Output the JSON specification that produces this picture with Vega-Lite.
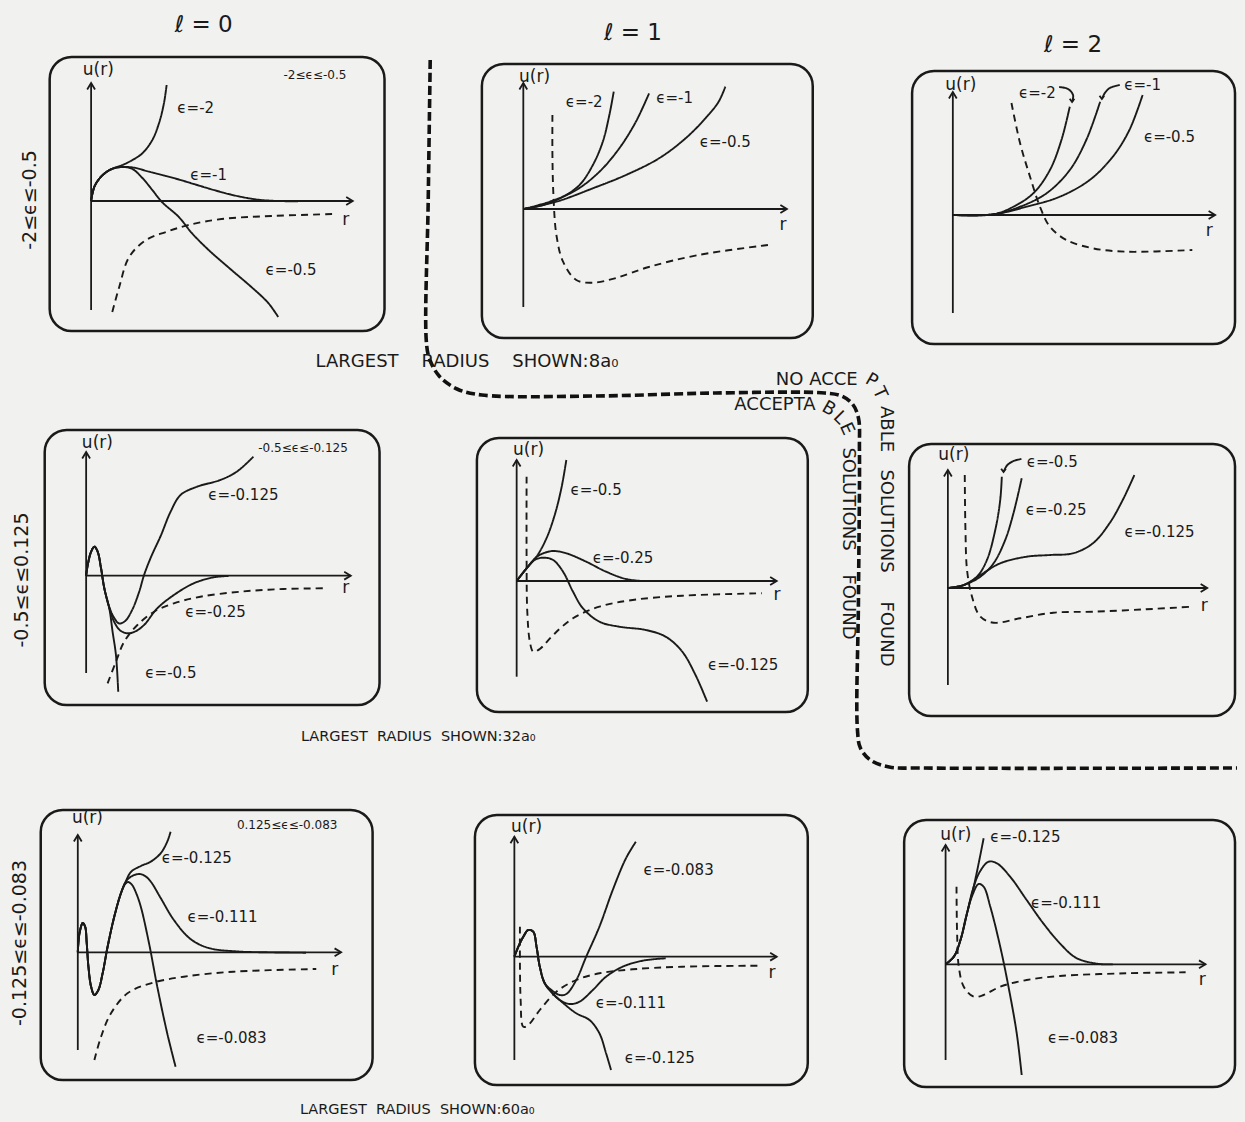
{
  "$schema": "https://vega.github.io/schema/vega-lite/v6.json",
  "width": 1245,
  "height": 1122,
  "autosize": {"type": "fit", "contains": "padding"},
  "padding": 0,
  "background": "#f1f1ef",
  "config": {"view": {"stroke": null}},
  "datasets": {
    "boxes": [
      {"panel": "l0_r1", "x0": 50, "x1": 387, "y0": 57, "y1": 331},
      {"panel": "l1_r1", "x0": 485, "x1": 818, "y0": 64, "y1": 338},
      {"panel": "l2_r1", "x0": 918, "x1": 1243, "y0": 71, "y1": 344},
      {"panel": "l0_r2", "x0": 45, "x1": 382, "y0": 430, "y1": 705},
      {"panel": "l1_r2", "x0": 480, "x1": 813, "y0": 438, "y1": 712},
      {"panel": "l2_r2", "x0": 915, "x1": 1243, "y0": 444, "y1": 716},
      {"panel": "l0_r3", "x0": 41, "x1": 375, "y0": 810, "y1": 1080},
      {"panel": "l1_r3", "x0": 478, "x1": 813, "y0": 815, "y1": 1085},
      {"panel": "l2_r3", "x0": 910, "x1": 1243, "y0": 820, "y1": 1087}
    ],
    "axes": [
      {"panel": "l0_r1", "x": 91.7, "y": 310, "x2": 91.7, "y2": 83},
      {"panel": "l0_r1", "x": 91.7, "y": 201, "x2": 355, "y2": 201},
      {"panel": "l1_r1", "x": 526.7, "y": 307, "x2": 526.7, "y2": 83},
      {"panel": "l1_r1", "x": 526.7, "y": 209, "x2": 792, "y2": 209},
      {"panel": "l2_r1", "x": 959, "y": 313, "x2": 959, "y2": 92},
      {"panel": "l2_r1", "x": 959, "y": 215, "x2": 1223, "y2": 215},
      {"panel": "l0_r2", "x": 86.7, "y": 673, "x2": 86.7, "y2": 452},
      {"panel": "l0_r2", "x": 86.7, "y": 575.7, "x2": 353, "y2": 575.7},
      {"panel": "l1_r2", "x": 520, "y": 676.7, "x2": 520, "y2": 460},
      {"panel": "l1_r2", "x": 520, "y": 581, "x2": 781.7, "y2": 581},
      {"panel": "l2_r2", "x": 954, "y": 685, "x2": 954, "y2": 470},
      {"panel": "l2_r2", "x": 954, "y": 588, "x2": 1215, "y2": 588},
      {"panel": "l0_r3", "x": 78.3, "y": 1050, "x2": 78.3, "y2": 835},
      {"panel": "l0_r3", "x": 78.3, "y": 952.3, "x2": 343.3, "y2": 952.3},
      {"panel": "l1_r3", "x": 517.7, "y": 1060, "x2": 517.7, "y2": 836.7},
      {"panel": "l1_r3", "x": 517.7, "y": 956.7, "x2": 781.7, "y2": 956.7},
      {"panel": "l2_r3", "x": 951.7, "y": 1060, "x2": 951.7, "y2": 845},
      {"panel": "l2_r3", "x": 951.7, "y": 964.3, "x2": 1213.3, "y2": 964.3}
    ],
    "arrows": [
      {"x": 91.7, "y": 83, "dir": "up", "kind": "axis"},
      {"x": 355, "y": 201, "dir": "right", "kind": "axis"},
      {"x": 526.7, "y": 83, "dir": "up", "kind": "axis"},
      {"x": 792, "y": 209, "dir": "right", "kind": "axis"},
      {"x": 959, "y": 92, "dir": "up", "kind": "axis"},
      {"x": 1223, "y": 215, "dir": "right", "kind": "axis"},
      {"x": 86.7, "y": 452, "dir": "up", "kind": "axis"},
      {"x": 353, "y": 575.7, "dir": "right", "kind": "axis"},
      {"x": 520, "y": 460, "dir": "up", "kind": "axis"},
      {"x": 781.7, "y": 581, "dir": "right", "kind": "axis"},
      {"x": 954, "y": 470, "dir": "up", "kind": "axis"},
      {"x": 1215, "y": 588, "dir": "right", "kind": "axis"},
      {"x": 78.3, "y": 835, "dir": "up", "kind": "axis"},
      {"x": 343.3, "y": 952.3, "dir": "right", "kind": "axis"},
      {"x": 517.7, "y": 836.7, "dir": "up", "kind": "axis"},
      {"x": 781.7, "y": 956.7, "dir": "right", "kind": "axis"},
      {"x": 951.7, "y": 845, "dir": "up", "kind": "axis"},
      {"x": 1213.3, "y": 964.3, "dir": "right", "kind": "axis"},
      {"x": 1079, "y": 102, "dir": "down", "kind": "pointer"},
      {"x": 1109, "y": 99, "dir": "down", "kind": "pointer"},
      {"x": 1010, "y": 472, "dir": "down", "kind": "pointer"}
    ],
    "boundary": [
      {"i": 0, "x": 433, "y": 60}, {"i": 1, "x": 431, "y": 200}, {"i": 2, "x": 429, "y": 340},
      {"i": 3, "x": 432, "y": 358}, {"i": 4, "x": 442, "y": 376}, {"i": 5, "x": 460, "y": 389},
      {"i": 6, "x": 485, "y": 395}, {"i": 7, "x": 600, "y": 396}, {"i": 8, "x": 720, "y": 393},
      {"i": 9, "x": 830, "y": 393}, {"i": 10, "x": 847, "y": 396}, {"i": 11, "x": 858, "y": 404},
      {"i": 12, "x": 864, "y": 418}, {"i": 13, "x": 865, "y": 450}, {"i": 14, "x": 864, "y": 600},
      {"i": 15, "x": 863, "y": 730}, {"i": 16, "x": 866, "y": 748}, {"i": 17, "x": 876, "y": 760},
      {"i": 18, "x": 895, "y": 767}, {"i": 19, "x": 930, "y": 768}, {"i": 20, "x": 1245, "y": 768}
    ],
    "curves": [
      {"id": "c00a", "kind": "solution", "i": 0, "x": 91.7, "y": 201},
      {"id": "c00a", "kind": "solution", "i": 1, "x": 95, "y": 186.7},
      {"id": "c00a", "kind": "solution", "i": 2, "x": 101.7, "y": 176.7},
      {"id": "c00a", "kind": "solution", "i": 3, "x": 111.7, "y": 169.3},
      {"id": "c00a", "kind": "solution", "i": 4, "x": 123.3, "y": 165},
      {"id": "c00a", "kind": "solution", "i": 5, "x": 133.3, "y": 160},
      {"id": "c00a", "kind": "solution", "i": 6, "x": 143.3, "y": 153.3},
      {"id": "c00a", "kind": "solution", "i": 7, "x": 153.3, "y": 140},
      {"id": "c00a", "kind": "solution", "i": 8, "x": 160, "y": 123.3},
      {"id": "c00a", "kind": "solution", "i": 9, "x": 165, "y": 103.3},
      {"id": "c00a", "kind": "solution", "i": 10, "x": 167.7, "y": 85},

      {"id": "c00b", "kind": "solution", "i": 0, "x": 91.7, "y": 201},
      {"id": "c00b", "kind": "solution", "i": 1, "x": 95, "y": 186.7},
      {"id": "c00b", "kind": "solution", "i": 2, "x": 101.7, "y": 176.7},
      {"id": "c00b", "kind": "solution", "i": 3, "x": 111.7, "y": 169.3},
      {"id": "c00b", "kind": "solution", "i": 4, "x": 123.3, "y": 167},
      {"id": "c00b", "kind": "solution", "i": 5, "x": 135, "y": 167.7},
      {"id": "c00b", "kind": "solution", "i": 6, "x": 150, "y": 171.7},
      {"id": "c00b", "kind": "solution", "i": 7, "x": 165, "y": 175.5},
      {"id": "c00b", "kind": "solution", "i": 8, "x": 180, "y": 179.5},
      {"id": "c00b", "kind": "solution", "i": 9, "x": 195, "y": 184},
      {"id": "c00b", "kind": "solution", "i": 10, "x": 210, "y": 188.5},
      {"id": "c00b", "kind": "solution", "i": 11, "x": 225, "y": 192.7},
      {"id": "c00b", "kind": "solution", "i": 12, "x": 240, "y": 196.3},
      {"id": "c00b", "kind": "solution", "i": 13, "x": 260, "y": 199.7},
      {"id": "c00b", "kind": "solution", "i": 14, "x": 280, "y": 201},
      {"id": "c00b", "kind": "solution", "i": 15, "x": 300, "y": 201.3},

      {"id": "c00c", "kind": "solution", "i": 0, "x": 91.7, "y": 201},
      {"id": "c00c", "kind": "solution", "i": 1, "x": 95, "y": 186.7},
      {"id": "c00c", "kind": "solution", "i": 2, "x": 101.7, "y": 176.7},
      {"id": "c00c", "kind": "solution", "i": 3, "x": 111.7, "y": 169.3},
      {"id": "c00c", "kind": "solution", "i": 4, "x": 123.3, "y": 167},
      {"id": "c00c", "kind": "solution", "i": 5, "x": 133.3, "y": 169},
      {"id": "c00c", "kind": "solution", "i": 6, "x": 143.3, "y": 178},
      {"id": "c00c", "kind": "solution", "i": 7, "x": 153.3, "y": 190},
      {"id": "c00c", "kind": "solution", "i": 8, "x": 163, "y": 202},
      {"id": "c00c", "kind": "solution", "i": 9, "x": 180, "y": 217},
      {"id": "c00c", "kind": "solution", "i": 10, "x": 193, "y": 233},
      {"id": "c00c", "kind": "solution", "i": 11, "x": 210, "y": 250},
      {"id": "c00c", "kind": "solution", "i": 12, "x": 233, "y": 270},
      {"id": "c00c", "kind": "solution", "i": 13, "x": 253, "y": 287},
      {"id": "c00c", "kind": "solution", "i": 14, "x": 270, "y": 303},
      {"id": "c00c", "kind": "solution", "i": 15, "x": 280, "y": 317},

      {"id": "c00d", "kind": "potential", "i": 0, "x": 113, "y": 312},
      {"id": "c00d", "kind": "potential", "i": 1, "x": 120, "y": 287},
      {"id": "c00d", "kind": "potential", "i": 2, "x": 130, "y": 257},
      {"id": "c00d", "kind": "potential", "i": 3, "x": 147, "y": 240},
      {"id": "c00d", "kind": "potential", "i": 4, "x": 167, "y": 232},
      {"id": "c00d", "kind": "potential", "i": 5, "x": 190, "y": 225},
      {"id": "c00d", "kind": "potential", "i": 6, "x": 223, "y": 219},
      {"id": "c00d", "kind": "potential", "i": 7, "x": 273, "y": 216},
      {"id": "c00d", "kind": "potential", "i": 8, "x": 337, "y": 214},

      {"id": "c01a", "kind": "solution", "i": 0, "x": 526.7, "y": 209},
      {"id": "c01a", "kind": "solution", "i": 1, "x": 546.7, "y": 205},
      {"id": "c01a", "kind": "solution", "i": 2, "x": 566.7, "y": 196.7},
      {"id": "c01a", "kind": "solution", "i": 3, "x": 583.3, "y": 185},
      {"id": "c01a", "kind": "solution", "i": 4, "x": 596.7, "y": 165},
      {"id": "c01a", "kind": "solution", "i": 5, "x": 606.7, "y": 141.7},
      {"id": "c01a", "kind": "solution", "i": 6, "x": 613.3, "y": 115},
      {"id": "c01a", "kind": "solution", "i": 7, "x": 617.7, "y": 91.7},

      {"id": "c01b", "kind": "solution", "i": 0, "x": 526.7, "y": 209},
      {"id": "c01b", "kind": "solution", "i": 1, "x": 553.3, "y": 201.7},
      {"id": "c01b", "kind": "solution", "i": 2, "x": 580, "y": 190},
      {"id": "c01b", "kind": "solution", "i": 3, "x": 603.3, "y": 171.7},
      {"id": "c01b", "kind": "solution", "i": 4, "x": 623.3, "y": 148.3},
      {"id": "c01b", "kind": "solution", "i": 5, "x": 640, "y": 121.7},
      {"id": "c01b", "kind": "solution", "i": 6, "x": 653.3, "y": 93.3},

      {"id": "c01c", "kind": "solution", "i": 0, "x": 526.7, "y": 209},
      {"id": "c01c", "kind": "solution", "i": 1, "x": 560, "y": 201.7},
      {"id": "c01c", "kind": "solution", "i": 2, "x": 596.7, "y": 188.3},
      {"id": "c01c", "kind": "solution", "i": 3, "x": 630, "y": 175},
      {"id": "c01c", "kind": "solution", "i": 4, "x": 663.3, "y": 158.3},
      {"id": "c01c", "kind": "solution", "i": 5, "x": 690, "y": 138.3},
      {"id": "c01c", "kind": "solution", "i": 6, "x": 710, "y": 118.3},
      {"id": "c01c", "kind": "solution", "i": 7, "x": 723.3, "y": 101.7},
      {"id": "c01c", "kind": "solution", "i": 8, "x": 730, "y": 86.7},

      {"id": "c01d", "kind": "potential", "i": 0, "x": 556, "y": 115},
      {"id": "c01d", "kind": "potential", "i": 1, "x": 556, "y": 155},
      {"id": "c01d", "kind": "potential", "i": 2, "x": 557, "y": 195},
      {"id": "c01d", "kind": "potential", "i": 3, "x": 560, "y": 235},
      {"id": "c01d", "kind": "potential", "i": 4, "x": 566.7, "y": 261.7},
      {"id": "c01d", "kind": "potential", "i": 5, "x": 580, "y": 280},
      {"id": "c01d", "kind": "potential", "i": 6, "x": 596.7, "y": 282.7},
      {"id": "c01d", "kind": "potential", "i": 7, "x": 620, "y": 278},
      {"id": "c01d", "kind": "potential", "i": 8, "x": 653, "y": 267},
      {"id": "c01d", "kind": "potential", "i": 9, "x": 703, "y": 255},
      {"id": "c01d", "kind": "potential", "i": 10, "x": 773, "y": 245},

      {"id": "c02a", "kind": "solution", "i": 0, "x": 959, "y": 215},
      {"id": "c02a", "kind": "solution", "i": 1, "x": 1000, "y": 214.3},
      {"id": "c02a", "kind": "solution", "i": 2, "x": 1020, "y": 206.7},
      {"id": "c02a", "kind": "solution", "i": 3, "x": 1040, "y": 193.3},
      {"id": "c02a", "kind": "solution", "i": 4, "x": 1056.7, "y": 170},
      {"id": "c02a", "kind": "solution", "i": 5, "x": 1068.3, "y": 140},
      {"id": "c02a", "kind": "solution", "i": 6, "x": 1076.7, "y": 106.7},

      {"id": "c02b", "kind": "solution", "i": 0, "x": 959, "y": 215},
      {"id": "c02b", "kind": "solution", "i": 1, "x": 1000, "y": 214.3},
      {"id": "c02b", "kind": "solution", "i": 2, "x": 1026.7, "y": 206.7},
      {"id": "c02b", "kind": "solution", "i": 3, "x": 1053.3, "y": 193.3},
      {"id": "c02b", "kind": "solution", "i": 4, "x": 1076.7, "y": 170},
      {"id": "c02b", "kind": "solution", "i": 5, "x": 1093.3, "y": 140},
      {"id": "c02b", "kind": "solution", "i": 6, "x": 1107.3, "y": 101.7},

      {"id": "c02c", "kind": "solution", "i": 0, "x": 959, "y": 215},
      {"id": "c02c", "kind": "solution", "i": 1, "x": 1000, "y": 214.3},
      {"id": "c02c", "kind": "solution", "i": 2, "x": 1033.3, "y": 206.7},
      {"id": "c02c", "kind": "solution", "i": 3, "x": 1066.7, "y": 196.7},
      {"id": "c02c", "kind": "solution", "i": 4, "x": 1096.7, "y": 180},
      {"id": "c02c", "kind": "solution", "i": 5, "x": 1120, "y": 156.7},
      {"id": "c02c", "kind": "solution", "i": 6, "x": 1136.7, "y": 130},
      {"id": "c02c", "kind": "solution", "i": 7, "x": 1150, "y": 95},

      {"id": "c02d", "kind": "potential", "i": 0, "x": 1018, "y": 103},
      {"id": "c02d", "kind": "potential", "i": 1, "x": 1026.7, "y": 143.3},
      {"id": "c02d", "kind": "potential", "i": 2, "x": 1036.7, "y": 176.7},
      {"id": "c02d", "kind": "potential", "i": 3, "x": 1046.7, "y": 206.7},
      {"id": "c02d", "kind": "potential", "i": 4, "x": 1056.7, "y": 226.7},
      {"id": "c02d", "kind": "potential", "i": 5, "x": 1073.3, "y": 240},
      {"id": "c02d", "kind": "potential", "i": 6, "x": 1100, "y": 248.3},
      {"id": "c02d", "kind": "potential", "i": 7, "x": 1133.3, "y": 251.7},
      {"id": "c02d", "kind": "potential", "i": 8, "x": 1200, "y": 250},

      {"id": "q02a", "kind": "pointer", "i": 0, "x": 1066, "y": 87},
      {"id": "q02a", "kind": "pointer", "i": 1, "x": 1075, "y": 89},
      {"id": "q02a", "kind": "pointer", "i": 2, "x": 1080, "y": 95},
      {"id": "q02a", "kind": "pointer", "i": 3, "x": 1079, "y": 102},
      {"id": "q02b", "kind": "pointer", "i": 0, "x": 1127, "y": 85},
      {"id": "q02b", "kind": "pointer", "i": 1, "x": 1117, "y": 88},
      {"id": "q02b", "kind": "pointer", "i": 2, "x": 1112, "y": 93},
      {"id": "q02b", "kind": "pointer", "i": 3, "x": 1109, "y": 99},

      {"id": "c10a", "kind": "solution", "i": 0, "x": 86.7, "y": 575.7},
      {"id": "c10a", "kind": "solution", "i": 1, "x": 88.3, "y": 565},
      {"id": "c10a", "kind": "solution", "i": 2, "x": 91.7, "y": 551.7},
      {"id": "c10a", "kind": "solution", "i": 3, "x": 95, "y": 546.7},
      {"id": "c10a", "kind": "solution", "i": 4, "x": 98.3, "y": 551.7},
      {"id": "c10a", "kind": "solution", "i": 5, "x": 101.7, "y": 568.3},
      {"id": "c10a", "kind": "solution", "i": 6, "x": 105, "y": 588.3},
      {"id": "c10a", "kind": "solution", "i": 7, "x": 110, "y": 608.3},
      {"id": "c10a", "kind": "solution", "i": 8, "x": 113.3, "y": 631.7},
      {"id": "c10a", "kind": "solution", "i": 9, "x": 116.7, "y": 655},
      {"id": "c10a", "kind": "solution", "i": 10, "x": 119, "y": 691.7},

      {"id": "c10b", "kind": "solution", "i": 0, "x": 86.7, "y": 575.7},
      {"id": "c10b", "kind": "solution", "i": 1, "x": 88.3, "y": 565},
      {"id": "c10b", "kind": "solution", "i": 2, "x": 91.7, "y": 551.7},
      {"id": "c10b", "kind": "solution", "i": 3, "x": 95, "y": 546.7},
      {"id": "c10b", "kind": "solution", "i": 4, "x": 98.3, "y": 551.7},
      {"id": "c10b", "kind": "solution", "i": 5, "x": 101.7, "y": 568.3},
      {"id": "c10b", "kind": "solution", "i": 6, "x": 105, "y": 588.3},
      {"id": "c10b", "kind": "solution", "i": 7, "x": 110, "y": 607},
      {"id": "c10b", "kind": "solution", "i": 8, "x": 115, "y": 618},
      {"id": "c10b", "kind": "solution", "i": 9, "x": 120, "y": 623.5},
      {"id": "c10b", "kind": "solution", "i": 10, "x": 126, "y": 621},
      {"id": "c10b", "kind": "solution", "i": 11, "x": 133, "y": 610},
      {"id": "c10b", "kind": "solution", "i": 12, "x": 140, "y": 592},
      {"id": "c10b", "kind": "solution", "i": 13, "x": 145, "y": 575},
      {"id": "c10b", "kind": "solution", "i": 14, "x": 152, "y": 557},
      {"id": "c10b", "kind": "solution", "i": 15, "x": 161.7, "y": 536},
      {"id": "c10b", "kind": "solution", "i": 16, "x": 171.7, "y": 511.7},
      {"id": "c10b", "kind": "solution", "i": 17, "x": 181.7, "y": 495},
      {"id": "c10b", "kind": "solution", "i": 18, "x": 198.3, "y": 486.7},
      {"id": "c10b", "kind": "solution", "i": 19, "x": 221.7, "y": 480},
      {"id": "c10b", "kind": "solution", "i": 20, "x": 238.3, "y": 471.7},
      {"id": "c10b", "kind": "solution", "i": 21, "x": 255, "y": 456.7},

      {"id": "c10c", "kind": "solution", "i": 0, "x": 86.7, "y": 575.7},
      {"id": "c10c", "kind": "solution", "i": 1, "x": 88.3, "y": 565},
      {"id": "c10c", "kind": "solution", "i": 2, "x": 91.7, "y": 551.7},
      {"id": "c10c", "kind": "solution", "i": 3, "x": 95, "y": 546.7},
      {"id": "c10c", "kind": "solution", "i": 4, "x": 98.3, "y": 551.7},
      {"id": "c10c", "kind": "solution", "i": 5, "x": 101.7, "y": 568.3},
      {"id": "c10c", "kind": "solution", "i": 6, "x": 105, "y": 588.3},
      {"id": "c10c", "kind": "solution", "i": 7, "x": 110, "y": 608},
      {"id": "c10c", "kind": "solution", "i": 8, "x": 115, "y": 622},
      {"id": "c10c", "kind": "solution", "i": 9, "x": 121, "y": 630.5},
      {"id": "c10c", "kind": "solution", "i": 10, "x": 128.3, "y": 633.3},
      {"id": "c10c", "kind": "solution", "i": 11, "x": 136, "y": 631.5},
      {"id": "c10c", "kind": "solution", "i": 12, "x": 145, "y": 625},
      {"id": "c10c", "kind": "solution", "i": 13, "x": 158.3, "y": 608.3},
      {"id": "c10c", "kind": "solution", "i": 14, "x": 175, "y": 595},
      {"id": "c10c", "kind": "solution", "i": 15, "x": 195, "y": 583.3},
      {"id": "c10c", "kind": "solution", "i": 16, "x": 215, "y": 577.3},
      {"id": "c10c", "kind": "solution", "i": 17, "x": 230, "y": 576},

      {"id": "c10d", "kind": "potential", "i": 0, "x": 108.3, "y": 683.3},
      {"id": "c10d", "kind": "potential", "i": 1, "x": 116.7, "y": 661.7},
      {"id": "c10d", "kind": "potential", "i": 2, "x": 125, "y": 641.7},
      {"id": "c10d", "kind": "potential", "i": 3, "x": 138.3, "y": 625},
      {"id": "c10d", "kind": "potential", "i": 4, "x": 155, "y": 611.7},
      {"id": "c10d", "kind": "potential", "i": 5, "x": 175, "y": 603.3},
      {"id": "c10d", "kind": "potential", "i": 6, "x": 201.7, "y": 596.7},
      {"id": "c10d", "kind": "potential", "i": 7, "x": 241.7, "y": 591.7},
      {"id": "c10d", "kind": "potential", "i": 8, "x": 285, "y": 589},
      {"id": "c10d", "kind": "potential", "i": 9, "x": 328.3, "y": 588.3},

      {"id": "c11a", "kind": "solution", "i": 0, "x": 520, "y": 581},
      {"id": "c11a", "kind": "solution", "i": 1, "x": 530, "y": 568.3},
      {"id": "c11a", "kind": "solution", "i": 2, "x": 540, "y": 556.7},
      {"id": "c11a", "kind": "solution", "i": 3, "x": 550, "y": 538.3},
      {"id": "c11a", "kind": "solution", "i": 4, "x": 558.3, "y": 515},
      {"id": "c11a", "kind": "solution", "i": 5, "x": 565, "y": 488.3},
      {"id": "c11a", "kind": "solution", "i": 6, "x": 570, "y": 460},

      {"id": "c11b", "kind": "solution", "i": 0, "x": 520, "y": 581},
      {"id": "c11b", "kind": "solution", "i": 1, "x": 530, "y": 568.3},
      {"id": "c11b", "kind": "solution", "i": 2, "x": 540, "y": 557},
      {"id": "c11b", "kind": "solution", "i": 3, "x": 546.7, "y": 553.3},
      {"id": "c11b", "kind": "solution", "i": 4, "x": 556.7, "y": 551},
      {"id": "c11b", "kind": "solution", "i": 5, "x": 570, "y": 553.3},
      {"id": "c11b", "kind": "solution", "i": 6, "x": 590, "y": 561.7},
      {"id": "c11b", "kind": "solution", "i": 7, "x": 610, "y": 571.7},
      {"id": "c11b", "kind": "solution", "i": 8, "x": 630, "y": 579},
      {"id": "c11b", "kind": "solution", "i": 9, "x": 646.7, "y": 581},

      {"id": "c11c", "kind": "solution", "i": 0, "x": 520, "y": 581},
      {"id": "c11c", "kind": "solution", "i": 1, "x": 530, "y": 568.3},
      {"id": "c11c", "kind": "solution", "i": 2, "x": 538, "y": 560},
      {"id": "c11c", "kind": "solution", "i": 3, "x": 546.7, "y": 557.7},
      {"id": "c11c", "kind": "solution", "i": 4, "x": 556.7, "y": 560},
      {"id": "c11c", "kind": "solution", "i": 5, "x": 566.7, "y": 571.7},
      {"id": "c11c", "kind": "solution", "i": 6, "x": 576.7, "y": 591.7},
      {"id": "c11c", "kind": "solution", "i": 7, "x": 586.7, "y": 608.3},
      {"id": "c11c", "kind": "solution", "i": 8, "x": 603.3, "y": 621.7},
      {"id": "c11c", "kind": "solution", "i": 9, "x": 623.3, "y": 626.7},
      {"id": "c11c", "kind": "solution", "i": 10, "x": 650, "y": 630},
      {"id": "c11c", "kind": "solution", "i": 11, "x": 670, "y": 636.7},
      {"id": "c11c", "kind": "solution", "i": 12, "x": 686.7, "y": 651.7},
      {"id": "c11c", "kind": "solution", "i": 13, "x": 700, "y": 675},
      {"id": "c11c", "kind": "solution", "i": 14, "x": 711.7, "y": 701.7},

      {"id": "c11d", "kind": "potential", "i": 0, "x": 530, "y": 476.7},
      {"id": "c11d", "kind": "potential", "i": 1, "x": 530, "y": 558.3},
      {"id": "c11d", "kind": "potential", "i": 2, "x": 530.7, "y": 611.7},
      {"id": "c11d", "kind": "potential", "i": 3, "x": 533.3, "y": 641.7},
      {"id": "c11d", "kind": "potential", "i": 4, "x": 536.7, "y": 651.7},
      {"id": "c11d", "kind": "potential", "i": 5, "x": 543.3, "y": 649},
      {"id": "c11d", "kind": "potential", "i": 6, "x": 556.7, "y": 635},
      {"id": "c11d", "kind": "potential", "i": 7, "x": 576.7, "y": 618.3},
      {"id": "c11d", "kind": "potential", "i": 8, "x": 603.3, "y": 606.7},
      {"id": "c11d", "kind": "potential", "i": 9, "x": 636.7, "y": 600},
      {"id": "c11d", "kind": "potential", "i": 10, "x": 686.7, "y": 595.7},
      {"id": "c11d", "kind": "potential", "i": 11, "x": 766.7, "y": 593.3},

      {"id": "c12a", "kind": "solution", "i": 0, "x": 954, "y": 588},
      {"id": "c12a", "kind": "solution", "i": 1, "x": 970, "y": 585},
      {"id": "c12a", "kind": "solution", "i": 2, "x": 983.3, "y": 576.7},
      {"id": "c12a", "kind": "solution", "i": 3, "x": 993.3, "y": 560},
      {"id": "c12a", "kind": "solution", "i": 4, "x": 1001.7, "y": 530},
      {"id": "c12a", "kind": "solution", "i": 5, "x": 1006.7, "y": 500},
      {"id": "c12a", "kind": "solution", "i": 6, "x": 1008.3, "y": 476.7},

      {"id": "c12b", "kind": "solution", "i": 0, "x": 954, "y": 588},
      {"id": "c12b", "kind": "solution", "i": 1, "x": 970, "y": 585},
      {"id": "c12b", "kind": "solution", "i": 2, "x": 986.7, "y": 576.7},
      {"id": "c12b", "kind": "solution", "i": 3, "x": 1000, "y": 563.3},
      {"id": "c12b", "kind": "solution", "i": 4, "x": 1011.7, "y": 540},
      {"id": "c12b", "kind": "solution", "i": 5, "x": 1020, "y": 513.3},
      {"id": "c12b", "kind": "solution", "i": 6, "x": 1028.3, "y": 478.3},

      {"id": "c12c", "kind": "solution", "i": 0, "x": 954, "y": 588},
      {"id": "c12c", "kind": "solution", "i": 1, "x": 970, "y": 585},
      {"id": "c12c", "kind": "solution", "i": 2, "x": 986.7, "y": 575},
      {"id": "c12c", "kind": "solution", "i": 3, "x": 1006.7, "y": 563.3},
      {"id": "c12c", "kind": "solution", "i": 4, "x": 1033.3, "y": 556.7},
      {"id": "c12c", "kind": "solution", "i": 5, "x": 1056.7, "y": 555},
      {"id": "c12c", "kind": "solution", "i": 6, "x": 1080, "y": 553.3},
      {"id": "c12c", "kind": "solution", "i": 7, "x": 1100, "y": 543.3},
      {"id": "c12c", "kind": "solution", "i": 8, "x": 1116.7, "y": 523.3},
      {"id": "c12c", "kind": "solution", "i": 9, "x": 1130, "y": 500},
      {"id": "c12c", "kind": "solution", "i": 10, "x": 1141.7, "y": 475},

      {"id": "c12d", "kind": "potential", "i": 0, "x": 971, "y": 475},
      {"id": "c12d", "kind": "potential", "i": 1, "x": 971.7, "y": 530},
      {"id": "c12d", "kind": "potential", "i": 2, "x": 973.3, "y": 570},
      {"id": "c12d", "kind": "potential", "i": 3, "x": 978.3, "y": 596.7},
      {"id": "c12d", "kind": "potential", "i": 4, "x": 986.7, "y": 616.7},
      {"id": "c12d", "kind": "potential", "i": 5, "x": 1000, "y": 622.7},
      {"id": "c12d", "kind": "potential", "i": 6, "x": 1026.7, "y": 618.3},
      {"id": "c12d", "kind": "potential", "i": 7, "x": 1060, "y": 612.7},
      {"id": "c12d", "kind": "potential", "i": 8, "x": 1100, "y": 611.7},
      {"id": "c12d", "kind": "potential", "i": 9, "x": 1153.3, "y": 609.3},
      {"id": "c12d", "kind": "potential", "i": 10, "x": 1200, "y": 606.7},

      {"id": "q12", "kind": "pointer", "i": 0, "x": 1028, "y": 459},
      {"id": "q12", "kind": "pointer", "i": 1, "x": 1020, "y": 461},
      {"id": "q12", "kind": "pointer", "i": 2, "x": 1013.5, "y": 465.5},
      {"id": "q12", "kind": "pointer", "i": 3, "x": 1010, "y": 472},

      {"id": "c20a", "kind": "solution", "i": 0, "x": 78.3, "y": 952.3},
      {"id": "c20a", "kind": "solution", "i": 1, "x": 80, "y": 933.3},
      {"id": "c20a", "kind": "solution", "i": 2, "x": 83.3, "y": 923},
      {"id": "c20a", "kind": "solution", "i": 3, "x": 85.7, "y": 926.7},
      {"id": "c20a", "kind": "solution", "i": 4, "x": 87.3, "y": 943.3},
      {"id": "c20a", "kind": "solution", "i": 5, "x": 89, "y": 966.7},
      {"id": "c20a", "kind": "solution", "i": 6, "x": 91.7, "y": 986.7},
      {"id": "c20a", "kind": "solution", "i": 7, "x": 95, "y": 995},
      {"id": "c20a", "kind": "solution", "i": 8, "x": 99, "y": 990},
      {"id": "c20a", "kind": "solution", "i": 9, "x": 103.3, "y": 973.3},
      {"id": "c20a", "kind": "solution", "i": 10, "x": 108.3, "y": 946.7},
      {"id": "c20a", "kind": "solution", "i": 11, "x": 115, "y": 916.7},
      {"id": "c20a", "kind": "solution", "i": 12, "x": 121.7, "y": 893.3},
      {"id": "c20a", "kind": "solution", "i": 13, "x": 126, "y": 883},
      {"id": "c20a", "kind": "solution", "i": 14, "x": 131.7, "y": 872},
      {"id": "c20a", "kind": "solution", "i": 15, "x": 141.7, "y": 866},
      {"id": "c20a", "kind": "solution", "i": 16, "x": 151.7, "y": 861.7},
      {"id": "c20a", "kind": "solution", "i": 17, "x": 161.7, "y": 853.3},
      {"id": "c20a", "kind": "solution", "i": 18, "x": 168.3, "y": 841.7},
      {"id": "c20a", "kind": "solution", "i": 19, "x": 171.7, "y": 831.7},

      {"id": "c20b", "kind": "solution", "i": 0, "x": 78.3, "y": 952.3},
      {"id": "c20b", "kind": "solution", "i": 1, "x": 80, "y": 933.3},
      {"id": "c20b", "kind": "solution", "i": 2, "x": 83.3, "y": 923},
      {"id": "c20b", "kind": "solution", "i": 3, "x": 85.7, "y": 926.7},
      {"id": "c20b", "kind": "solution", "i": 4, "x": 87.3, "y": 943.3},
      {"id": "c20b", "kind": "solution", "i": 5, "x": 89, "y": 966.7},
      {"id": "c20b", "kind": "solution", "i": 6, "x": 91.7, "y": 986.7},
      {"id": "c20b", "kind": "solution", "i": 7, "x": 95, "y": 995},
      {"id": "c20b", "kind": "solution", "i": 8, "x": 99, "y": 990},
      {"id": "c20b", "kind": "solution", "i": 9, "x": 103.3, "y": 973.3},
      {"id": "c20b", "kind": "solution", "i": 10, "x": 108.3, "y": 946.7},
      {"id": "c20b", "kind": "solution", "i": 11, "x": 115, "y": 916.7},
      {"id": "c20b", "kind": "solution", "i": 12, "x": 121.7, "y": 893.3},
      {"id": "c20b", "kind": "solution", "i": 13, "x": 127, "y": 881},
      {"id": "c20b", "kind": "solution", "i": 14, "x": 133, "y": 876},
      {"id": "c20b", "kind": "solution", "i": 15, "x": 140, "y": 874},
      {"id": "c20b", "kind": "solution", "i": 16, "x": 146, "y": 876},
      {"id": "c20b", "kind": "solution", "i": 17, "x": 152, "y": 882},
      {"id": "c20b", "kind": "solution", "i": 18, "x": 161.7, "y": 898},
      {"id": "c20b", "kind": "solution", "i": 19, "x": 175, "y": 920},
      {"id": "c20b", "kind": "solution", "i": 20, "x": 191.7, "y": 939},
      {"id": "c20b", "kind": "solution", "i": 21, "x": 210, "y": 948},
      {"id": "c20b", "kind": "solution", "i": 22, "x": 240, "y": 951.5},
      {"id": "c20b", "kind": "solution", "i": 23, "x": 268.3, "y": 952.3},
      {"id": "c20b", "kind": "solution", "i": 24, "x": 308, "y": 952.7},

      {"id": "c20c", "kind": "solution", "i": 0, "x": 78.3, "y": 952.3},
      {"id": "c20c", "kind": "solution", "i": 1, "x": 80, "y": 933.3},
      {"id": "c20c", "kind": "solution", "i": 2, "x": 83.3, "y": 923},
      {"id": "c20c", "kind": "solution", "i": 3, "x": 85.7, "y": 926.7},
      {"id": "c20c", "kind": "solution", "i": 4, "x": 87.3, "y": 943.3},
      {"id": "c20c", "kind": "solution", "i": 5, "x": 89, "y": 966.7},
      {"id": "c20c", "kind": "solution", "i": 6, "x": 91.7, "y": 986.7},
      {"id": "c20c", "kind": "solution", "i": 7, "x": 95, "y": 995},
      {"id": "c20c", "kind": "solution", "i": 8, "x": 99, "y": 990},
      {"id": "c20c", "kind": "solution", "i": 9, "x": 103.3, "y": 973.3},
      {"id": "c20c", "kind": "solution", "i": 10, "x": 108.3, "y": 946.7},
      {"id": "c20c", "kind": "solution", "i": 11, "x": 115, "y": 916.7},
      {"id": "c20c", "kind": "solution", "i": 12, "x": 121.7, "y": 893.3},
      {"id": "c20c", "kind": "solution", "i": 13, "x": 126, "y": 884},
      {"id": "c20c", "kind": "solution", "i": 14, "x": 129, "y": 882},
      {"id": "c20c", "kind": "solution", "i": 15, "x": 133, "y": 885},
      {"id": "c20c", "kind": "solution", "i": 16, "x": 137, "y": 893},
      {"id": "c20c", "kind": "solution", "i": 17, "x": 141.7, "y": 906.7},
      {"id": "c20c", "kind": "solution", "i": 18, "x": 150, "y": 943.3},
      {"id": "c20c", "kind": "solution", "i": 19, "x": 158.3, "y": 986.7},
      {"id": "c20c", "kind": "solution", "i": 20, "x": 168.3, "y": 1033.3},
      {"id": "c20c", "kind": "solution", "i": 21, "x": 176.7, "y": 1066.7},

      {"id": "c20d", "kind": "potential", "i": 0, "x": 95, "y": 1060},
      {"id": "c20d", "kind": "potential", "i": 1, "x": 101.7, "y": 1036.7},
      {"id": "c20d", "kind": "potential", "i": 2, "x": 111.7, "y": 1013.3},
      {"id": "c20d", "kind": "potential", "i": 3, "x": 128.3, "y": 993.3},
      {"id": "c20d", "kind": "potential", "i": 4, "x": 151.7, "y": 983.3},
      {"id": "c20d", "kind": "potential", "i": 5, "x": 185, "y": 976.7},
      {"id": "c20d", "kind": "potential", "i": 6, "x": 235, "y": 971.7},
      {"id": "c20d", "kind": "potential", "i": 7, "x": 318.3, "y": 969},

      {"id": "c21a", "kind": "solution", "i": 0, "x": 517.7, "y": 956.7},
      {"id": "c21a", "kind": "solution", "i": 1, "x": 521.7, "y": 946.7},
      {"id": "c21a", "kind": "solution", "i": 2, "x": 526.7, "y": 936.7},
      {"id": "c21a", "kind": "solution", "i": 3, "x": 531.7, "y": 930},
      {"id": "c21a", "kind": "solution", "i": 4, "x": 536.7, "y": 931.7},
      {"id": "c21a", "kind": "solution", "i": 5, "x": 540, "y": 946.7},
      {"id": "c21a", "kind": "solution", "i": 6, "x": 543.3, "y": 966.7},
      {"id": "c21a", "kind": "solution", "i": 7, "x": 548.3, "y": 983.3},
      {"id": "c21a", "kind": "solution", "i": 8, "x": 555, "y": 990},
      {"id": "c21a", "kind": "solution", "i": 9, "x": 563.3, "y": 995},
      {"id": "c21a", "kind": "solution", "i": 10, "x": 570, "y": 994},
      {"id": "c21a", "kind": "solution", "i": 11, "x": 580, "y": 980},
      {"id": "c21a", "kind": "solution", "i": 12, "x": 590, "y": 956.7},
      {"id": "c21a", "kind": "solution", "i": 13, "x": 603.3, "y": 926.7},
      {"id": "c21a", "kind": "solution", "i": 14, "x": 616.7, "y": 890},
      {"id": "c21a", "kind": "solution", "i": 15, "x": 630, "y": 858.3},
      {"id": "c21a", "kind": "solution", "i": 16, "x": 640, "y": 841.7},

      {"id": "c21b", "kind": "solution", "i": 0, "x": 517.7, "y": 956.7},
      {"id": "c21b", "kind": "solution", "i": 1, "x": 521.7, "y": 946.7},
      {"id": "c21b", "kind": "solution", "i": 2, "x": 526.7, "y": 936.7},
      {"id": "c21b", "kind": "solution", "i": 3, "x": 531.7, "y": 930},
      {"id": "c21b", "kind": "solution", "i": 4, "x": 536.7, "y": 931.7},
      {"id": "c21b", "kind": "solution", "i": 5, "x": 540, "y": 946.7},
      {"id": "c21b", "kind": "solution", "i": 6, "x": 543.3, "y": 966.7},
      {"id": "c21b", "kind": "solution", "i": 7, "x": 548.3, "y": 983.3},
      {"id": "c21b", "kind": "solution", "i": 8, "x": 555, "y": 992},
      {"id": "c21b", "kind": "solution", "i": 9, "x": 563.3, "y": 1000},
      {"id": "c21b", "kind": "solution", "i": 10, "x": 573.3, "y": 1004},
      {"id": "c21b", "kind": "solution", "i": 11, "x": 583.3, "y": 1001.7},
      {"id": "c21b", "kind": "solution", "i": 12, "x": 596.7, "y": 990},
      {"id": "c21b", "kind": "solution", "i": 13, "x": 610, "y": 976.7},
      {"id": "c21b", "kind": "solution", "i": 14, "x": 626.7, "y": 966.7},
      {"id": "c21b", "kind": "solution", "i": 15, "x": 646.7, "y": 960.7},
      {"id": "c21b", "kind": "solution", "i": 16, "x": 670, "y": 958.3},

      {"id": "c21c", "kind": "solution", "i": 0, "x": 517.7, "y": 956.7},
      {"id": "c21c", "kind": "solution", "i": 1, "x": 521.7, "y": 946.7},
      {"id": "c21c", "kind": "solution", "i": 2, "x": 526.7, "y": 936.7},
      {"id": "c21c", "kind": "solution", "i": 3, "x": 531.7, "y": 930},
      {"id": "c21c", "kind": "solution", "i": 4, "x": 536.7, "y": 931.7},
      {"id": "c21c", "kind": "solution", "i": 5, "x": 540, "y": 946.7},
      {"id": "c21c", "kind": "solution", "i": 6, "x": 543.3, "y": 966.7},
      {"id": "c21c", "kind": "solution", "i": 7, "x": 548.3, "y": 983.3},
      {"id": "c21c", "kind": "solution", "i": 8, "x": 555, "y": 992},
      {"id": "c21c", "kind": "solution", "i": 9, "x": 563.3, "y": 1000},
      {"id": "c21c", "kind": "solution", "i": 10, "x": 580, "y": 1013.3},
      {"id": "c21c", "kind": "solution", "i": 11, "x": 593.3, "y": 1020},
      {"id": "c21c", "kind": "solution", "i": 12, "x": 603.3, "y": 1033.3},
      {"id": "c21c", "kind": "solution", "i": 13, "x": 610, "y": 1053.3},
      {"id": "c21c", "kind": "solution", "i": 14, "x": 615, "y": 1070},

      {"id": "c21d", "kind": "potential", "i": 0, "x": 523.3, "y": 926.7},
      {"id": "c21d", "kind": "potential", "i": 1, "x": 524, "y": 1000},
      {"id": "c21d", "kind": "potential", "i": 2, "x": 526.7, "y": 1026.7},
      {"id": "c21d", "kind": "potential", "i": 3, "x": 531.7, "y": 1025},
      {"id": "c21d", "kind": "potential", "i": 4, "x": 543.3, "y": 1010},
      {"id": "c21d", "kind": "potential", "i": 5, "x": 560, "y": 991.7},
      {"id": "c21d", "kind": "potential", "i": 6, "x": 580, "y": 980},
      {"id": "c21d", "kind": "potential", "i": 7, "x": 603.3, "y": 973.3},
      {"id": "c21d", "kind": "potential", "i": 8, "x": 636.7, "y": 969.3},
      {"id": "c21d", "kind": "potential", "i": 9, "x": 686.7, "y": 966.7},
      {"id": "c21d", "kind": "potential", "i": 10, "x": 763.3, "y": 965.7},

      {"id": "c22a", "kind": "solution", "i": 0, "x": 951.7, "y": 964.3},
      {"id": "c22a", "kind": "solution", "i": 1, "x": 960, "y": 956.7},
      {"id": "c22a", "kind": "solution", "i": 2, "x": 966.7, "y": 940},
      {"id": "c22a", "kind": "solution", "i": 3, "x": 973.3, "y": 913.3},
      {"id": "c22a", "kind": "solution", "i": 4, "x": 980, "y": 886.7},
      {"id": "c22a", "kind": "solution", "i": 5, "x": 985, "y": 863.3},
      {"id": "c22a", "kind": "solution", "i": 6, "x": 990, "y": 838.3},

      {"id": "c22b", "kind": "solution", "i": 0, "x": 951.7, "y": 964.3},
      {"id": "c22b", "kind": "solution", "i": 1, "x": 960, "y": 956.7},
      {"id": "c22b", "kind": "solution", "i": 2, "x": 966.7, "y": 940},
      {"id": "c22b", "kind": "solution", "i": 3, "x": 973.3, "y": 913.3},
      {"id": "c22b", "kind": "solution", "i": 4, "x": 979, "y": 890},
      {"id": "c22b", "kind": "solution", "i": 5, "x": 986, "y": 872},
      {"id": "c22b", "kind": "solution", "i": 6, "x": 995, "y": 861.7},
      {"id": "c22b", "kind": "solution", "i": 7, "x": 1003.3, "y": 863.3},
      {"id": "c22b", "kind": "solution", "i": 8, "x": 1016.7, "y": 876.7},
      {"id": "c22b", "kind": "solution", "i": 9, "x": 1033.3, "y": 900},
      {"id": "c22b", "kind": "solution", "i": 10, "x": 1050, "y": 923.3},
      {"id": "c22b", "kind": "solution", "i": 11, "x": 1066.7, "y": 943.3},
      {"id": "c22b", "kind": "solution", "i": 12, "x": 1083.3, "y": 958},
      {"id": "c22b", "kind": "solution", "i": 13, "x": 1106.7, "y": 964},
      {"id": "c22b", "kind": "solution", "i": 14, "x": 1120, "y": 964.3},

      {"id": "c22c", "kind": "solution", "i": 0, "x": 951.7, "y": 964.3},
      {"id": "c22c", "kind": "solution", "i": 1, "x": 960, "y": 956.7},
      {"id": "c22c", "kind": "solution", "i": 2, "x": 966.7, "y": 940},
      {"id": "c22c", "kind": "solution", "i": 3, "x": 972, "y": 918},
      {"id": "c22c", "kind": "solution", "i": 4, "x": 978, "y": 897},
      {"id": "c22c", "kind": "solution", "i": 5, "x": 985, "y": 884},
      {"id": "c22c", "kind": "solution", "i": 6, "x": 990, "y": 886.7},
      {"id": "c22c", "kind": "solution", "i": 7, "x": 996.7, "y": 906.7},
      {"id": "c22c", "kind": "solution", "i": 8, "x": 1006.7, "y": 946.7},
      {"id": "c22c", "kind": "solution", "i": 9, "x": 1015, "y": 986.7},
      {"id": "c22c", "kind": "solution", "i": 10, "x": 1023.3, "y": 1033.3},
      {"id": "c22c", "kind": "solution", "i": 11, "x": 1028.3, "y": 1075},

      {"id": "c22d", "kind": "potential", "i": 0, "x": 962.7, "y": 886.7},
      {"id": "c22d", "kind": "potential", "i": 1, "x": 963.3, "y": 933.3},
      {"id": "c22d", "kind": "potential", "i": 2, "x": 965, "y": 966.7},
      {"id": "c22d", "kind": "potential", "i": 3, "x": 970, "y": 986.7},
      {"id": "c22d", "kind": "potential", "i": 4, "x": 980, "y": 996.7},
      {"id": "c22d", "kind": "potential", "i": 5, "x": 990, "y": 995},
      {"id": "c22d", "kind": "potential", "i": 6, "x": 1006.7, "y": 986.7},
      {"id": "c22d", "kind": "potential", "i": 7, "x": 1033.3, "y": 980},
      {"id": "c22d", "kind": "potential", "i": 8, "x": 1066.7, "y": 976},
      {"id": "c22d", "kind": "potential", "i": 9, "x": 1133.3, "y": 973.3},
      {"id": "c22d", "kind": "potential", "i": 10, "x": 1193.3, "y": 972.3}
    ],
    "labels": [
      {"text": "ϵ=-2", "x": 197, "y": 108, "kind": "curve"},
      {"text": "ϵ=-1", "x": 210, "y": 175, "kind": "curve"},
      {"text": "ϵ=-0.5", "x": 293, "y": 270, "kind": "curve"},
      {"text": "ϵ=-2", "x": 588, "y": 102, "kind": "curve"},
      {"text": "ϵ=-1", "x": 679, "y": 98, "kind": "curve"},
      {"text": "ϵ=-0.5", "x": 730, "y": 142, "kind": "curve"},
      {"text": "ϵ=-2", "x": 1044, "y": 93, "kind": "curve"},
      {"text": "ϵ=-1", "x": 1150, "y": 85, "kind": "curve"},
      {"text": "ϵ=-0.5", "x": 1177, "y": 137, "kind": "curve"},
      {"text": "ϵ=-0.125", "x": 245, "y": 495, "kind": "curve"},
      {"text": "ϵ=-0.25", "x": 217, "y": 612, "kind": "curve"},
      {"text": "ϵ=-0.5", "x": 172, "y": 673, "kind": "curve"},
      {"text": "ϵ=-0.5", "x": 600, "y": 490, "kind": "curve"},
      {"text": "ϵ=-0.25", "x": 627, "y": 558, "kind": "curve"},
      {"text": "ϵ=-0.125", "x": 748, "y": 665, "kind": "curve"},
      {"text": "ϵ=-0.5", "x": 1059, "y": 462, "kind": "curve"},
      {"text": "ϵ=-0.25", "x": 1063, "y": 510, "kind": "curve"},
      {"text": "ϵ=-0.125", "x": 1167, "y": 532, "kind": "curve"},
      {"text": "ϵ=-0.125", "x": 198, "y": 858, "kind": "curve"},
      {"text": "ϵ=-0.111", "x": 224, "y": 917, "kind": "curve"},
      {"text": "ϵ=-0.083", "x": 233, "y": 1038, "kind": "curve"},
      {"text": "ϵ=-0.083", "x": 683, "y": 870, "kind": "curve"},
      {"text": "ϵ=-0.111", "x": 635, "y": 1003, "kind": "curve"},
      {"text": "ϵ=-0.125", "x": 664, "y": 1058, "kind": "curve"},
      {"text": "ϵ=-0.125", "x": 1032, "y": 837, "kind": "curve"},
      {"text": "ϵ=-0.111", "x": 1073, "y": 903, "kind": "curve"},
      {"text": "ϵ=-0.083", "x": 1090, "y": 1038, "kind": "curve"},

      {"text": "u(r)", "x": 99, "y": 70, "kind": "axis"},
      {"text": "u(r)", "x": 538, "y": 77, "kind": "axis"},
      {"text": "u(r)", "x": 967, "y": 85, "kind": "axis"},
      {"text": "u(r)", "x": 98, "y": 443, "kind": "axis"},
      {"text": "u(r)", "x": 532, "y": 450, "kind": "axis"},
      {"text": "u(r)", "x": 960, "y": 455, "kind": "axis"},
      {"text": "u(r)", "x": 88, "y": 818, "kind": "axis"},
      {"text": "u(r)", "x": 530, "y": 827, "kind": "axis"},
      {"text": "u(r)", "x": 962, "y": 835, "kind": "axis"},
      {"text": "r", "x": 348, "y": 220, "kind": "axis"},
      {"text": "r", "x": 788, "y": 225, "kind": "axis"},
      {"text": "r", "x": 1217, "y": 231, "kind": "axis"},
      {"text": "r", "x": 348, "y": 588, "kind": "axis"},
      {"text": "r", "x": 782, "y": 595, "kind": "axis"},
      {"text": "r", "x": 1212, "y": 606, "kind": "axis"},
      {"text": "r", "x": 337, "y": 970, "kind": "axis"},
      {"text": "r", "x": 777, "y": 973, "kind": "axis"},
      {"text": "r", "x": 1210, "y": 980, "kind": "axis"},

      {"text": "-2≤ϵ≤-0.5", "x": 317, "y": 75, "kind": "range"},
      {"text": "-0.5≤ϵ≤-0.125", "x": 305, "y": 448, "kind": "range"},
      {"text": "0.125≤ϵ≤-0.083", "x": 289, "y": 825, "kind": "range"},

      {"text": "ℓ = 0", "x": 205, "y": 25, "kind": "header"},
      {"text": "ℓ = 1", "x": 637, "y": 33, "kind": "header"},
      {"text": "ℓ = 2", "x": 1080, "y": 45, "kind": "header"},

      {"text": "-2≤ϵ≤-0.5", "x": 30, "y": 200, "kind": "row"},
      {"text": "-0.5≤ϵ≤0.125", "x": 22, "y": 580, "kind": "row"},
      {"text": "-0.125≤ϵ≤-0.083", "x": 20, "y": 943, "kind": "row"},

      {"text": "LARGEST\u00a0\u00a0\u00a0\u00a0RADIUS\u00a0\u00a0\u00a0\u00a0SHOWN:8a₀", "x": 470, "y": 362, "kind": "radius_big"},
      {"text": "LARGEST\u00a0\u00a0RADIUS\u00a0\u00a0SHOWN:32a₀", "x": 421, "y": 737, "kind": "radius"},
      {"text": "LARGEST\u00a0\u00a0RADIUS\u00a0\u00a0SHOWN:60a₀", "x": 420, "y": 1110, "kind": "radius"},

      {"text": "NO ACCE", "x": 822, "y": 380, "kind": "region_h"},
      {"text": "ACCEPTA", "x": 780, "y": 405, "kind": "region_h"},
      {"text": "P", "x": 877, "y": 381, "kind": "region_30"},
      {"text": "B", "x": 834, "y": 409, "kind": "region_30"},
      {"text": "L", "x": 845, "y": 418, "kind": "region_45"},
      {"text": "T", "x": 885, "y": 393, "kind": "region_65"},
      {"text": "E", "x": 852, "y": 429, "kind": "region_65"},
      {"text": "ABLE", "x": 891.5, "y": 429, "kind": "region_v"},
      {"text": "SOLUTIONS", "x": 891.5, "y": 521, "kind": "region_v"},
      {"text": "FOUND", "x": 891.5, "y": 634, "kind": "region_v"},
      {"text": "SOLUTIONS", "x": 853, "y": 499, "kind": "region_v"},
      {"text": "FOUND", "x": 853, "y": 607, "kind": "region_v"}
    ]
  },
  "layer": [
    {
      "data": {"name": "boxes"},
      "mark": {"type": "rect", "cornerRadius": 22, "fill": "transparent", "stroke": "#1a1a1a", "strokeWidth": 2.5},
      "encoding": {
        "x": {"field": "x0", "type": "quantitative", "scale": {"domain": [0, 1245], "nice": false, "zero": false}, "axis": null},
        "x2": {"field": "x1"},
        "y": {"field": "y0", "type": "quantitative", "scale": {"domain": [0, 1122], "nice": false, "zero": false, "reverse": true}, "axis": null},
        "y2": {"field": "y1"}
      }
    },
    {
      "data": {"name": "axes"},
      "mark": {"type": "rule", "color": "#1a1a1a", "strokeWidth": 1.8},
      "encoding": {
        "x": {"field": "x", "type": "quantitative", "axis": null},
        "y": {"field": "y", "type": "quantitative", "axis": null},
        "x2": {"field": "x2"},
        "y2": {"field": "y2"}
      }
    },
    {
      "data": {"name": "arrows"},
      "mark": {"type": "point", "filled": false, "stroke": "#1a1a1a", "strokeWidth": 1.8, "opacity": 1},
      "encoding": {
        "x": {"field": "x", "type": "quantitative", "axis": null},
        "y": {"field": "y", "type": "quantitative", "axis": null},
        "shape": {"field": "dir", "type": "nominal", "scale": {"domain": ["up", "right", "down"], "range": ["M-0.6,1L0,0L0.6,1", "M-1,-0.6L0,0L-1,0.6", "M-0.7,-1L0,0L0.7,-1"]}, "legend": null},
        "size": {"field": "kind", "type": "nominal", "scale": {"domain": ["axis", "pointer"], "range": [170, 45]}, "legend": null}
      }
    },
    {
      "data": {"name": "curves"},
      "mark": {"type": "line", "interpolate": "catmull-rom", "color": "#1a1a1a", "strokeWidth": 1.9},
      "encoding": {
        "x": {"field": "x", "type": "quantitative", "axis": null},
        "y": {"field": "y", "type": "quantitative", "axis": null},
        "detail": {"field": "id", "type": "nominal"},
        "order": {"field": "i", "type": "quantitative"},
        "strokeDash": {"field": "kind", "type": "nominal", "scale": {"domain": ["solution", "potential", "pointer"], "range": [[1, 0], [7, 5], [1, 0]]}, "legend": null}
      }
    },
    {
      "data": {"name": "boundary"},
      "mark": {"type": "line", "interpolate": "catmull-rom", "color": "#111111", "strokeWidth": 3.6, "strokeDash": [9, 4]},
      "encoding": {
        "x": {"field": "x", "type": "quantitative", "axis": null},
        "y": {"field": "y", "type": "quantitative", "axis": null},
        "order": {"field": "i", "type": "quantitative"}
      }
    },
    {
      "data": {"name": "labels"},
      "transform": [{"filter": {"field": "kind", "equal": "curve"}}],
      "mark": {"type": "text", "font": "DejaVu Sans", "fontSize": 15, "align": "center", "baseline": "middle", "color": "#1a1a1a"},
      "encoding": {
        "x": {"field": "x", "type": "quantitative", "axis": null},
        "y": {"field": "y", "type": "quantitative", "axis": null},
        "text": {"field": "text"}
      }
    },
    {
      "data": {"name": "labels"},
      "transform": [{"filter": {"field": "kind", "equal": "axis"}}],
      "mark": {"type": "text", "font": "DejaVu Sans", "fontSize": 17, "align": "center", "baseline": "middle", "color": "#1a1a1a"},
      "encoding": {
        "x": {"field": "x", "type": "quantitative", "axis": null},
        "y": {"field": "y", "type": "quantitative", "axis": null},
        "text": {"field": "text"}
      }
    },
    {
      "data": {"name": "labels"},
      "transform": [{"filter": {"field": "kind", "equal": "range"}}],
      "mark": {"type": "text", "font": "DejaVu Sans", "fontSize": 12, "align": "center", "baseline": "middle", "color": "#1a1a1a"},
      "encoding": {
        "x": {"field": "x", "type": "quantitative", "axis": null},
        "y": {"field": "y", "type": "quantitative", "axis": null},
        "text": {"field": "text"}
      }
    },
    {
      "data": {"name": "labels"},
      "transform": [{"filter": {"field": "kind", "equal": "header"}}],
      "mark": {"type": "text", "font": "DejaVu Sans", "fontSize": 23, "align": "center", "baseline": "middle", "color": "#1a1a1a"},
      "encoding": {
        "x": {"field": "x", "type": "quantitative", "axis": null},
        "y": {"field": "y", "type": "quantitative", "axis": null},
        "text": {"field": "text"}
      }
    },
    {
      "data": {"name": "labels"},
      "transform": [{"filter": {"field": "kind", "equal": "row"}}],
      "mark": {"type": "text", "font": "DejaVu Sans", "fontSize": 19, "angle": 270, "align": "center", "baseline": "middle", "color": "#1a1a1a"},
      "encoding": {
        "x": {"field": "x", "type": "quantitative", "axis": null},
        "y": {"field": "y", "type": "quantitative", "axis": null},
        "text": {"field": "text"}
      }
    },
    {
      "data": {"name": "labels"},
      "transform": [{"filter": {"field": "kind", "equal": "radius_big"}}],
      "mark": {"type": "text", "font": "DejaVu Sans", "fontSize": 18, "align": "center", "baseline": "middle", "color": "#1a1a1a"},
      "encoding": {
        "x": {"field": "x", "type": "quantitative", "axis": null},
        "y": {"field": "y", "type": "quantitative", "axis": null},
        "text": {"field": "text"}
      }
    },
    {
      "data": {"name": "labels"},
      "transform": [{"filter": {"field": "kind", "equal": "radius"}}],
      "mark": {"type": "text", "font": "DejaVu Sans", "fontSize": 14.5, "align": "center", "baseline": "middle", "color": "#1a1a1a"},
      "encoding": {
        "x": {"field": "x", "type": "quantitative", "axis": null},
        "y": {"field": "y", "type": "quantitative", "axis": null},
        "text": {"field": "text"}
      }
    },
    {
      "data": {"name": "labels"},
      "transform": [{"filter": {"field": "kind", "equal": "region_h"}}],
      "mark": {"type": "text", "font": "DejaVu Sans", "fontSize": 18, "align": "center", "baseline": "middle", "color": "#1a1a1a"},
      "encoding": {
        "x": {"field": "x", "type": "quantitative", "axis": null},
        "y": {"field": "y", "type": "quantitative", "axis": null},
        "text": {"field": "text"}
      }
    },
    {
      "data": {"name": "labels"},
      "transform": [{"filter": {"field": "kind", "equal": "region_30"}}],
      "mark": {"type": "text", "font": "DejaVu Sans", "fontSize": 18, "angle": 30, "align": "center", "baseline": "middle", "color": "#1a1a1a"},
      "encoding": {
        "x": {"field": "x", "type": "quantitative", "axis": null},
        "y": {"field": "y", "type": "quantitative", "axis": null},
        "text": {"field": "text"}
      }
    },
    {
      "data": {"name": "labels"},
      "transform": [{"filter": {"field": "kind", "equal": "region_45"}}],
      "mark": {"type": "text", "font": "DejaVu Sans", "fontSize": 18, "angle": 45, "align": "center", "baseline": "middle", "color": "#1a1a1a"},
      "encoding": {
        "x": {"field": "x", "type": "quantitative", "axis": null},
        "y": {"field": "y", "type": "quantitative", "axis": null},
        "text": {"field": "text"}
      }
    },
    {
      "data": {"name": "labels"},
      "transform": [{"filter": {"field": "kind", "equal": "region_65"}}],
      "mark": {"type": "text", "font": "DejaVu Sans", "fontSize": 18, "angle": 65, "align": "center", "baseline": "middle", "color": "#1a1a1a"},
      "encoding": {
        "x": {"field": "x", "type": "quantitative", "axis": null},
        "y": {"field": "y", "type": "quantitative", "axis": null},
        "text": {"field": "text"}
      }
    },
    {
      "data": {"name": "labels"},
      "transform": [{"filter": {"field": "kind", "equal": "region_v"}}],
      "mark": {"type": "text", "font": "DejaVu Sans", "fontSize": 18, "angle": 90, "align": "center", "baseline": "middle", "color": "#1a1a1a"},
      "encoding": {
        "x": {"field": "x", "type": "quantitative", "axis": null},
        "y": {"field": "y", "type": "quantitative", "axis": null},
        "text": {"field": "text"}
      }
    }
  ]
}
